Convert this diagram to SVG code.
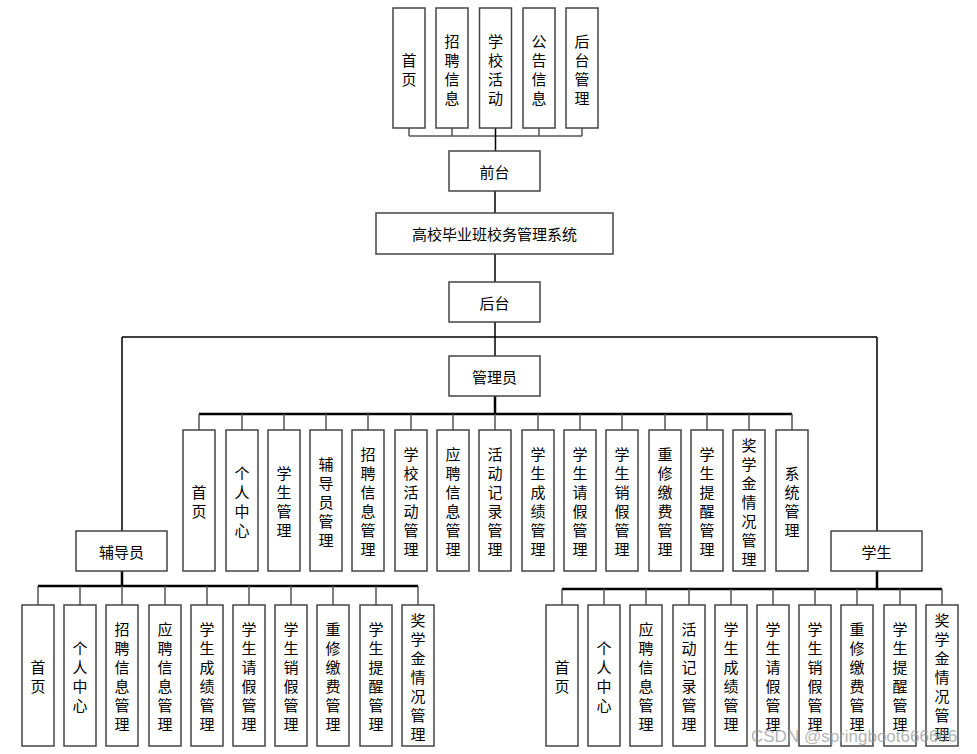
<svg xmlns="http://www.w3.org/2000/svg" width="977" height="754" viewBox="0 0 977 754">
<style>
.b{fill:#fff;stroke:#444;stroke-width:1.5}
.t{font-family:"Noto Sans CJK SC","Noto Sans CJK JP",sans-serif;font-size:15px;fill:#000;text-anchor:middle;dominant-baseline:central}
.ln{stroke:#555;stroke-width:1.5;fill:none}
.lk{stroke:#000;stroke-width:1.5;fill:none}
.lb{stroke:#000;stroke-width:2.5;fill:none}
.wm{font-family:"Liberation Sans",Arial,sans-serif;font-size:17px;fill:#9a9a9a;opacity:0.75}
</style>
<rect width="977" height="754" fill="#fff"/>
<g id="connectors">
<path class="ln" d="M409 128V136M452 128V136M539 128V136M582 128V136M409 136H582"/>
<path class="lk" d="M495.5 128V151M495 191V213M495 254V282M495 322V356M122 337H877M122 337V531M877 337V531"/>
<path class="lb" d="M495 396V414M199 414H792"/>
<path class="ln" d="M199 414V430M242 414V430M284 414V430M326 414V430M368 414V430M411 414V430M453 414V430M495 414V430M538 414V430M580 414V430M622 414V430M665 414V430M707 414V430M749 414V430M792 414V430"/>
<path class="lb" d="M122 571V586M38 586H418"/>
<path class="ln" d="M38 586V605M80 586V605M122 586V605M165 586V605M207 586V605M249 586V605M291 586V605M333 586V605M376 586V605M418 586V605"/>
<path class="lb" d="M877 571V589M562 589H942"/>
<path class="ln" d="M562 589V605M604 589V605M646 589V605M689 589V605M731 589V605M773 589V605M815 589V605M857 589V605M900 589V605M942 589V605"/>
</g>
<g id="top-home"><rect class="b" x="393" y="8" width="32" height="120"/><text class="t" x="409" y="58.5"><tspan x="409">首</tspan><tspan x="409" dy="19">页</tspan></text></g>
<g id="top-recruit"><rect class="b" x="436" y="8" width="32" height="120"/><text class="t" x="452" y="39.5"><tspan x="452">招</tspan><tspan x="452" dy="19">聘</tspan><tspan x="452" dy="19">信</tspan><tspan x="452" dy="19">息</tspan></text></g>
<g id="top-activity"><rect class="b" x="479.5" y="8" width="32" height="120"/><text class="t" x="495.5" y="39.5"><tspan x="495.5">学</tspan><tspan x="495.5" dy="19">校</tspan><tspan x="495.5" dy="19">活</tspan><tspan x="495.5" dy="19">动</tspan></text></g>
<g id="top-notice"><rect class="b" x="523" y="8" width="32" height="120"/><text class="t" x="539" y="39.5"><tspan x="539">公</tspan><tspan x="539" dy="19">告</tspan><tspan x="539" dy="19">信</tspan><tspan x="539" dy="19">息</tspan></text></g>
<g id="top-admin"><rect class="b" x="566" y="8" width="32" height="120"/><text class="t" x="582" y="39.5"><tspan x="582">后</tspan><tspan x="582" dy="19">台</tspan><tspan x="582" dy="19">管</tspan><tspan x="582" dy="19">理</tspan></text></g>
<g id="frontend"><rect class="b" x="449" y="151" width="91" height="40"/><text class="t" x="494.5" y="171">前台</text></g>
<g id="system"><rect class="b" x="376" y="213" width="237" height="41"/><text class="t" x="494.5" y="233.5">高校毕业班校务管理系统</text></g>
<g id="backend"><rect class="b" x="449" y="282" width="91" height="40"/><text class="t" x="494.5" y="302">后台</text></g>
<g id="admin"><rect class="b" x="449" y="356" width="91" height="40"/><text class="t" x="494.5" y="376">管理员</text></g>
<g id="counselor"><rect class="b" x="76" y="531" width="91" height="40"/><text class="t" x="121.5" y="551">辅导员</text></g>
<g id="student"><rect class="b" x="831" y="531" width="91" height="40"/><text class="t" x="876.5" y="551">学生</text></g>

<g id="a1"><rect class="b" x="183" y="430" width="32" height="141"/><text class="t" y="491"><tspan x="199">首</tspan><tspan x="199" dy="19">页</tspan></text></g>
<g id="a2"><rect class="b" x="226" y="430" width="32" height="141"/><text class="t" y="472"><tspan x="242">个</tspan><tspan x="242" dy="19">人</tspan><tspan x="242" dy="19">中</tspan><tspan x="242" dy="19">心</tspan></text></g>
<g id="a3"><rect class="b" x="268" y="430" width="32" height="141"/><text class="t" y="472"><tspan x="284">学</tspan><tspan x="284" dy="19">生</tspan><tspan x="284" dy="19">管</tspan><tspan x="284" dy="19">理</tspan></text></g>
<g id="a4"><rect class="b" x="310" y="430" width="32" height="141"/><text class="t" y="462.5"><tspan x="326">辅</tspan><tspan x="326" dy="19">导</tspan><tspan x="326" dy="19">员</tspan><tspan x="326" dy="19">管</tspan><tspan x="326" dy="19">理</tspan></text></g>
<g id="a5"><rect class="b" x="352" y="430" width="32" height="141"/><text class="t" y="453"><tspan x="368">招</tspan><tspan x="368" dy="19">聘</tspan><tspan x="368" dy="19">信</tspan><tspan x="368" dy="19">息</tspan><tspan x="368" dy="19">管</tspan><tspan x="368" dy="19">理</tspan></text></g>
<g id="a6"><rect class="b" x="395" y="430" width="32" height="141"/><text class="t" y="453"><tspan x="411">学</tspan><tspan x="411" dy="19">校</tspan><tspan x="411" dy="19">活</tspan><tspan x="411" dy="19">动</tspan><tspan x="411" dy="19">管</tspan><tspan x="411" dy="19">理</tspan></text></g>
<g id="a7"><rect class="b" x="437" y="430" width="32" height="141"/><text class="t" y="453"><tspan x="453">应</tspan><tspan x="453" dy="19">聘</tspan><tspan x="453" dy="19">信</tspan><tspan x="453" dy="19">息</tspan><tspan x="453" dy="19">管</tspan><tspan x="453" dy="19">理</tspan></text></g>
<g id="a8"><rect class="b" x="479" y="430" width="32" height="141"/><text class="t" y="453"><tspan x="495">活</tspan><tspan x="495" dy="19">动</tspan><tspan x="495" dy="19">记</tspan><tspan x="495" dy="19">录</tspan><tspan x="495" dy="19">管</tspan><tspan x="495" dy="19">理</tspan></text></g>
<g id="a9"><rect class="b" x="522" y="430" width="32" height="141"/><text class="t" y="453"><tspan x="538">学</tspan><tspan x="538" dy="19">生</tspan><tspan x="538" dy="19">成</tspan><tspan x="538" dy="19">绩</tspan><tspan x="538" dy="19">管</tspan><tspan x="538" dy="19">理</tspan></text></g>
<g id="a10"><rect class="b" x="564" y="430" width="32" height="141"/><text class="t" y="453"><tspan x="580">学</tspan><tspan x="580" dy="19">生</tspan><tspan x="580" dy="19">请</tspan><tspan x="580" dy="19">假</tspan><tspan x="580" dy="19">管</tspan><tspan x="580" dy="19">理</tspan></text></g>
<g id="a11"><rect class="b" x="606" y="430" width="32" height="141"/><text class="t" y="453"><tspan x="622">学</tspan><tspan x="622" dy="19">生</tspan><tspan x="622" dy="19">销</tspan><tspan x="622" dy="19">假</tspan><tspan x="622" dy="19">管</tspan><tspan x="622" dy="19">理</tspan></text></g>
<g id="a12"><rect class="b" x="649" y="430" width="32" height="141"/><text class="t" y="453"><tspan x="665">重</tspan><tspan x="665" dy="19">修</tspan><tspan x="665" dy="19">缴</tspan><tspan x="665" dy="19">费</tspan><tspan x="665" dy="19">管</tspan><tspan x="665" dy="19">理</tspan></text></g>
<g id="a13"><rect class="b" x="691" y="430" width="32" height="141"/><text class="t" y="453"><tspan x="707">学</tspan><tspan x="707" dy="19">生</tspan><tspan x="707" dy="19">提</tspan><tspan x="707" dy="19">醒</tspan><tspan x="707" dy="19">管</tspan><tspan x="707" dy="19">理</tspan></text></g>
<g id="a14"><rect class="b" x="733" y="430" width="32" height="141"/><text class="t" y="443.5"><tspan x="749">奖</tspan><tspan x="749" dy="19">学</tspan><tspan x="749" dy="19">金</tspan><tspan x="749" dy="19">情</tspan><tspan x="749" dy="19">况</tspan><tspan x="749" dy="19">管</tspan><tspan x="749" dy="19">理</tspan></text></g>
<g id="a15"><rect class="b" x="776" y="430" width="32" height="141"/><text class="t" y="472"><tspan x="792">系</tspan><tspan x="792" dy="19">统</tspan><tspan x="792" dy="19">管</tspan><tspan x="792" dy="19">理</tspan></text></g>

<g id="c1"><rect class="b" x="22" y="605" width="32" height="141"/><text class="t" y="666"><tspan x="38">首</tspan><tspan x="38" dy="19">页</tspan></text></g>
<g id="c2"><rect class="b" x="64" y="605" width="32" height="141"/><text class="t" y="647"><tspan x="80">个</tspan><tspan x="80" dy="19">人</tspan><tspan x="80" dy="19">中</tspan><tspan x="80" dy="19">心</tspan></text></g>
<g id="c3"><rect class="b" x="106" y="605" width="32" height="141"/><text class="t" y="628"><tspan x="122">招</tspan><tspan x="122" dy="19">聘</tspan><tspan x="122" dy="19">信</tspan><tspan x="122" dy="19">息</tspan><tspan x="122" dy="19">管</tspan><tspan x="122" dy="19">理</tspan></text></g>
<g id="c4"><rect class="b" x="149" y="605" width="32" height="141"/><text class="t" y="628"><tspan x="165">应</tspan><tspan x="165" dy="19">聘</tspan><tspan x="165" dy="19">信</tspan><tspan x="165" dy="19">息</tspan><tspan x="165" dy="19">管</tspan><tspan x="165" dy="19">理</tspan></text></g>
<g id="c5"><rect class="b" x="191" y="605" width="32" height="141"/><text class="t" y="628"><tspan x="207">学</tspan><tspan x="207" dy="19">生</tspan><tspan x="207" dy="19">成</tspan><tspan x="207" dy="19">绩</tspan><tspan x="207" dy="19">管</tspan><tspan x="207" dy="19">理</tspan></text></g>
<g id="c6"><rect class="b" x="233" y="605" width="32" height="141"/><text class="t" y="628"><tspan x="249">学</tspan><tspan x="249" dy="19">生</tspan><tspan x="249" dy="19">请</tspan><tspan x="249" dy="19">假</tspan><tspan x="249" dy="19">管</tspan><tspan x="249" dy="19">理</tspan></text></g>
<g id="c7"><rect class="b" x="275" y="605" width="32" height="141"/><text class="t" y="628"><tspan x="291">学</tspan><tspan x="291" dy="19">生</tspan><tspan x="291" dy="19">销</tspan><tspan x="291" dy="19">假</tspan><tspan x="291" dy="19">管</tspan><tspan x="291" dy="19">理</tspan></text></g>
<g id="c8"><rect class="b" x="317" y="605" width="32" height="141"/><text class="t" y="628"><tspan x="333">重</tspan><tspan x="333" dy="19">修</tspan><tspan x="333" dy="19">缴</tspan><tspan x="333" dy="19">费</tspan><tspan x="333" dy="19">管</tspan><tspan x="333" dy="19">理</tspan></text></g>
<g id="c9"><rect class="b" x="360" y="605" width="32" height="141"/><text class="t" y="628"><tspan x="376">学</tspan><tspan x="376" dy="19">生</tspan><tspan x="376" dy="19">提</tspan><tspan x="376" dy="19">醒</tspan><tspan x="376" dy="19">管</tspan><tspan x="376" dy="19">理</tspan></text></g>
<g id="c10"><rect class="b" x="402" y="605" width="32" height="141"/><text class="t" y="618.5"><tspan x="418">奖</tspan><tspan x="418" dy="19">学</tspan><tspan x="418" dy="19">金</tspan><tspan x="418" dy="19">情</tspan><tspan x="418" dy="19">况</tspan><tspan x="418" dy="19">管</tspan><tspan x="418" dy="19">理</tspan></text></g>

<g id="s1"><rect class="b" x="546" y="605" width="32" height="141"/><text class="t" y="666"><tspan x="562">首</tspan><tspan x="562" dy="19">页</tspan></text></g>
<g id="s2"><rect class="b" x="588" y="605" width="32" height="141"/><text class="t" y="647"><tspan x="604">个</tspan><tspan x="604" dy="19">人</tspan><tspan x="604" dy="19">中</tspan><tspan x="604" dy="19">心</tspan></text></g>
<g id="s3"><rect class="b" x="630" y="605" width="32" height="141"/><text class="t" y="628"><tspan x="646">应</tspan><tspan x="646" dy="19">聘</tspan><tspan x="646" dy="19">信</tspan><tspan x="646" dy="19">息</tspan><tspan x="646" dy="19">管</tspan><tspan x="646" dy="19">理</tspan></text></g>
<g id="s4"><rect class="b" x="673" y="605" width="32" height="141"/><text class="t" y="628"><tspan x="689">活</tspan><tspan x="689" dy="19">动</tspan><tspan x="689" dy="19">记</tspan><tspan x="689" dy="19">录</tspan><tspan x="689" dy="19">管</tspan><tspan x="689" dy="19">理</tspan></text></g>
<g id="s5"><rect class="b" x="715" y="605" width="32" height="141"/><text class="t" y="628"><tspan x="731">学</tspan><tspan x="731" dy="19">生</tspan><tspan x="731" dy="19">成</tspan><tspan x="731" dy="19">绩</tspan><tspan x="731" dy="19">管</tspan><tspan x="731" dy="19">理</tspan></text></g>
<g id="s6"><rect class="b" x="757" y="605" width="32" height="141"/><text class="t" y="628"><tspan x="773">学</tspan><tspan x="773" dy="19">生</tspan><tspan x="773" dy="19">请</tspan><tspan x="773" dy="19">假</tspan><tspan x="773" dy="19">管</tspan><tspan x="773" dy="19">理</tspan></text></g>
<g id="s7"><rect class="b" x="799" y="605" width="32" height="141"/><text class="t" y="628"><tspan x="815">学</tspan><tspan x="815" dy="19">生</tspan><tspan x="815" dy="19">销</tspan><tspan x="815" dy="19">假</tspan><tspan x="815" dy="19">管</tspan><tspan x="815" dy="19">理</tspan></text></g>
<g id="s8"><rect class="b" x="841" y="605" width="32" height="141"/><text class="t" y="628"><tspan x="857">重</tspan><tspan x="857" dy="19">修</tspan><tspan x="857" dy="19">缴</tspan><tspan x="857" dy="19">费</tspan><tspan x="857" dy="19">管</tspan><tspan x="857" dy="19">理</tspan></text></g>
<g id="s9"><rect class="b" x="884" y="605" width="32" height="141"/><text class="t" y="628"><tspan x="900">学</tspan><tspan x="900" dy="19">生</tspan><tspan x="900" dy="19">提</tspan><tspan x="900" dy="19">醒</tspan><tspan x="900" dy="19">管</tspan><tspan x="900" dy="19">理</tspan></text></g>
<g id="s10"><rect class="b" x="926" y="605" width="32" height="141"/><text class="t" y="618.5"><tspan x="942">奖</tspan><tspan x="942" dy="19">学</tspan><tspan x="942" dy="19">金</tspan><tspan x="942" dy="19">情</tspan><tspan x="942" dy="19">况</tspan><tspan x="942" dy="19">管</tspan><tspan x="942" dy="19">理</tspan></text></g>

<text class="wm" x="751" y="742">CSDN @springboot666666</text>
</svg>
